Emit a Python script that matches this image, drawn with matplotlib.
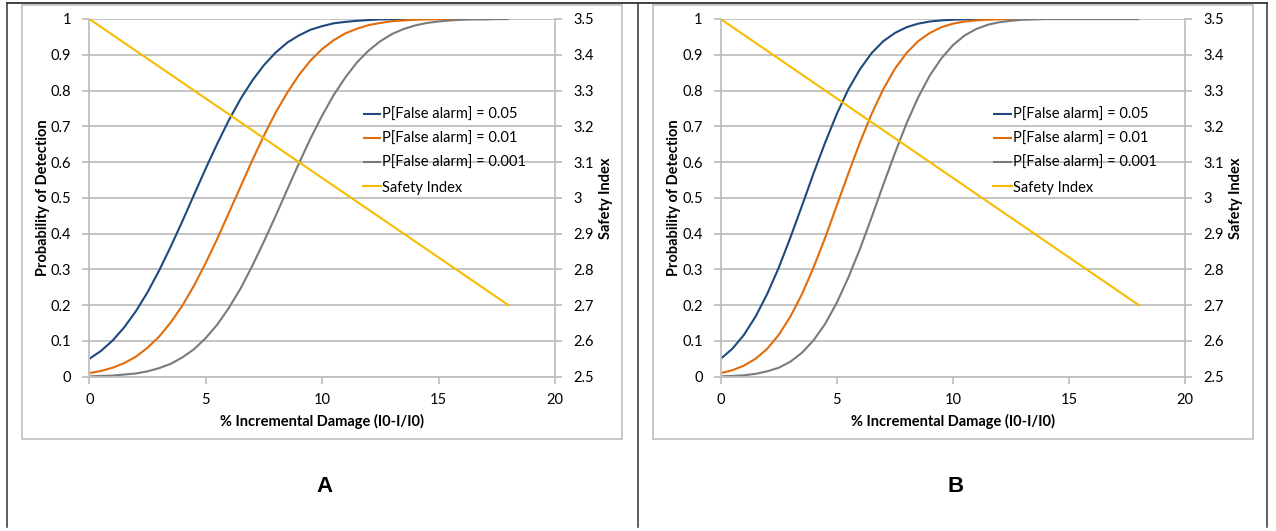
import matplotlib.pyplot as plt
from matplotlib.lines import Line2D
from matplotlib.patches import Rectangle

plt.rcParams['font.family'] = ['Lato', 'DejaVu Sans']

# % incremental damage sample positions
damage = [0, 0.5, 1, 1.5, 2, 2.5, 3, 3.5, 4, 4.5, 5, 5.5, 6, 6.5, 7, 7.5, 8, 8.5,
          9, 9.5, 10, 10.5, 11, 11.5, 12, 12.5, 13, 13.5, 14, 14.5, 15, 15.5, 16,
          16.5, 17, 17.5, 18]

# panel A, probability of detection
a_pf005 = [0.050, 0.072, 0.101, 0.138, 0.183, 0.236, 0.297, 0.364, 0.435, 0.509,
           0.582, 0.652, 0.718, 0.777, 0.828, 0.871, 0.906, 0.934, 0.954, 0.970,
           0.980, 0.988, 0.992, 0.995, 0.997, 0.999, 0.999, 1.0, 1.0, 1.0, 1.0,
           1.0, 1.0, 1.0, 1.0, 1.0, 1.0]
a_pf001 = [0.010, 0.016, 0.025, 0.038, 0.056, 0.081, 0.112, 0.152, 0.199, 0.255,
           0.318, 0.386, 0.459, 0.532, 0.605, 0.674, 0.738, 0.794, 0.843, 0.884,
           0.916, 0.941, 0.960, 0.973, 0.983, 0.989, 0.994, 0.996, 0.998, 0.999,
           0.999, 1.0, 1.0, 1.0, 1.0, 1.0, 1.0]
a_pf0001 = [0.001, 0.002, 0.003, 0.006, 0.009, 0.015, 0.024, 0.036, 0.054, 0.077,
            0.108, 0.146, 0.193, 0.247, 0.310, 0.378, 0.449, 0.523, 0.596, 0.666,
            0.730, 0.788, 0.837, 0.879, 0.912, 0.938, 0.958, 0.972, 0.982, 0.989,
            0.993, 0.996, 0.998, 0.999, 0.999, 1.0, 1.0]

# panel B
b_pf005 = [0.050, 0.078, 0.117, 0.168, 0.231, 0.305, 0.389, 0.478, 0.569, 0.655,
           0.735, 0.804, 0.860, 0.905, 0.938, 0.961, 0.977, 0.987, 0.993, 0.996,
           0.998, 0.999, 1.0, 1.0, 1.0, 1.0, 1.0, 1.0, 1.0, 1.0, 1.0, 1.0, 1.0,
           1.0, 1.0, 1.0, 1.0]
b_pf001 = [0.010, 0.018, 0.031, 0.050, 0.078, 0.117, 0.168, 0.231, 0.306, 0.389,
           0.479, 0.569, 0.656, 0.735, 0.804, 0.861, 0.905, 0.938, 0.961, 0.977,
           0.987, 0.993, 0.996, 0.998, 0.999, 1.0, 1.0, 1.0, 1.0, 1.0, 1.0, 1.0,
           1.0, 1.0, 1.0, 1.0, 1.0]
b_pf0001 = [0.001, 0.002, 0.004, 0.008, 0.015, 0.025, 0.042, 0.067, 0.102, 0.148,
            0.207, 0.278, 0.358, 0.446, 0.537, 0.625, 0.708, 0.781, 0.842, 0.890,
            0.927, 0.954, 0.972, 0.984, 0.991, 0.995, 0.998, 0.999, 1.0, 1.0, 1.0,
            1.0, 1.0, 1.0, 1.0, 1.0, 1.0]

# safety index (same in both panels)
si_damage = [0, 18]
si_vals = [3.5, 2.7]

labels = ['P[False alarm] = 0.05', 'P[False alarm] = 0.01',
          'P[False alarm] = 0.001', 'Safety Index']
colors = ['#1f497d', '#e36c0a', '#7a7a7a', '#f7bb00']
left_ticks = [0, 0.1, 0.2, 0.3, 0.4, 0.5, 0.6, 0.7, 0.8, 0.9, 1]
right_ticks = [2.5, 2.6, 2.7, 2.8, 2.9, 3, 3.1, 3.2, 3.3, 3.4, 3.5]
x_ticks = [0, 5, 10, 15, 20]

W, H = 1276, 531
fig = plt.figure(figsize=(W / 100, H / 100), dpi=100)
grid_c = '#bfbfbf'


def px(x0, y0, x1, y1):
    # pixel box (top-left origin) -> figure fraction rect
    return [x0 / W, 1 - y1 / H, (x1 - x0) / W, (y1 - y0) / H]


def panel(rect, series, letter, letter_x):
    ax = fig.add_axes(rect)
    for vals, c, lab in zip(series, colors[:3], labels[:3]):
        ax.plot(damage, vals, color=c, lw=1.5, label=lab, solid_capstyle='butt')
    ax.set_xlim(0, 20)
    ax.set_ylim(0, 1)
    ax.set_xticks(x_ticks)
    ax.set_yticks(left_ticks)
    ax.set_yticklabels([f'{v:g}' for v in left_ticks])
    ax.yaxis.grid(True, color=grid_c, lw=1.3)
    ax.set_axisbelow(True)
    for s in ['top', 'right']:
        ax.spines[s].set_visible(False)
    for s in ['left', 'bottom']:
        ax.spines[s].set_color(grid_c)
        ax.spines[s].set_linewidth(1.3)
    ax.tick_params(axis='both', colors=grid_c, labelcolor='black', length=5,
                   width=1.3, labelsize=10.5)
    ax.tick_params(axis='y', pad=8)
    ax.tick_params(axis='x', pad=7)
    ax.set_xlabel('% Incremental Damage (I0-I/I0)', fontsize=10.5, fontweight='bold',
                  labelpad=5)
    ax.set_ylabel('Probability of Detection', fontsize=10.5, fontweight='bold')
    ax.yaxis.set_label_coords(-0.0844, 0.5)

    ax2 = ax.twinx()
    ax2.plot(si_damage, si_vals, color=colors[3], lw=1.5, label=labels[3])
    ax2.set_ylim(2.5, 3.5)
    ax2.set_yticks(right_ticks)
    ax2.set_yticklabels([f'{v:g}' for v in right_ticks])
    for s in ['top', 'left', 'bottom']:
        ax2.spines[s].set_visible(False)
    ax2.spines['right'].set_color(grid_c)
    ax2.spines['right'].set_linewidth(1.3)
    ax2.tick_params(axis='y', colors=grid_c, labelcolor='black', length=5,
                    width=1.3, labelsize=10.5, pad=8)
    ax2.set_ylabel('Safety Index', fontsize=10.5, fontweight='bold')
    ax2.yaxis.set_label_coords(1.095, 0.5)

    h1, _ = ax.get_legend_handles_labels()
    h2, _ = ax2.get_legend_handles_labels()
    ax2.legend(h1 + h2, labels, loc='upper left', bbox_to_anchor=(0.587, 0.752),
               frameon=False, fontsize=10.5, handlelength=1.25, handletextpad=0.1,
               labelspacing=0.7, borderpad=0, borderaxespad=0)

    fig.text(letter_x / W, 1 - 487 / H, letter, ha='center', va='center',
             fontsize=16, fontweight='bold', family=['Liberation Sans', 'DejaVu Sans'])
    return ax


panel(px(89.3, 19, 555, 376.7), [a_pf005, a_pf001, a_pf0001], 'A', 324.5)
panel(px(720.7, 19, 1185.3, 376.7), [b_pf005, b_pf001, b_pf0001], 'B', 955.6)

# light chart-area boxes
for x0, x1 in [(21.7, 622), (652.7, 1253)]:
    fig.add_artist(Rectangle((x0 / W, 1 - 439 / H), (x1 - x0) / W, (439 - 5) / H,
                             transform=fig.transFigure, fill=False,
                             edgecolor=grid_c, lw=1.2))

# outer dark frame with divider
frame_c = '#333333'
fig.add_artist(Line2D([7 / W, 1267 / W], [1 - 3.3 / H, 1 - 3.3 / H],
                      transform=fig.transFigure, color=frame_c, lw=1.3))
for xx in [7, 637.5, 1267]:
    fig.add_artist(Line2D([xx / W, xx / W], [1 - 3.3 / H, 1 - 527 / H],
                          transform=fig.transFigure, color=frame_c, lw=1.1))

fig.savefig('out.png', dpi=100)
